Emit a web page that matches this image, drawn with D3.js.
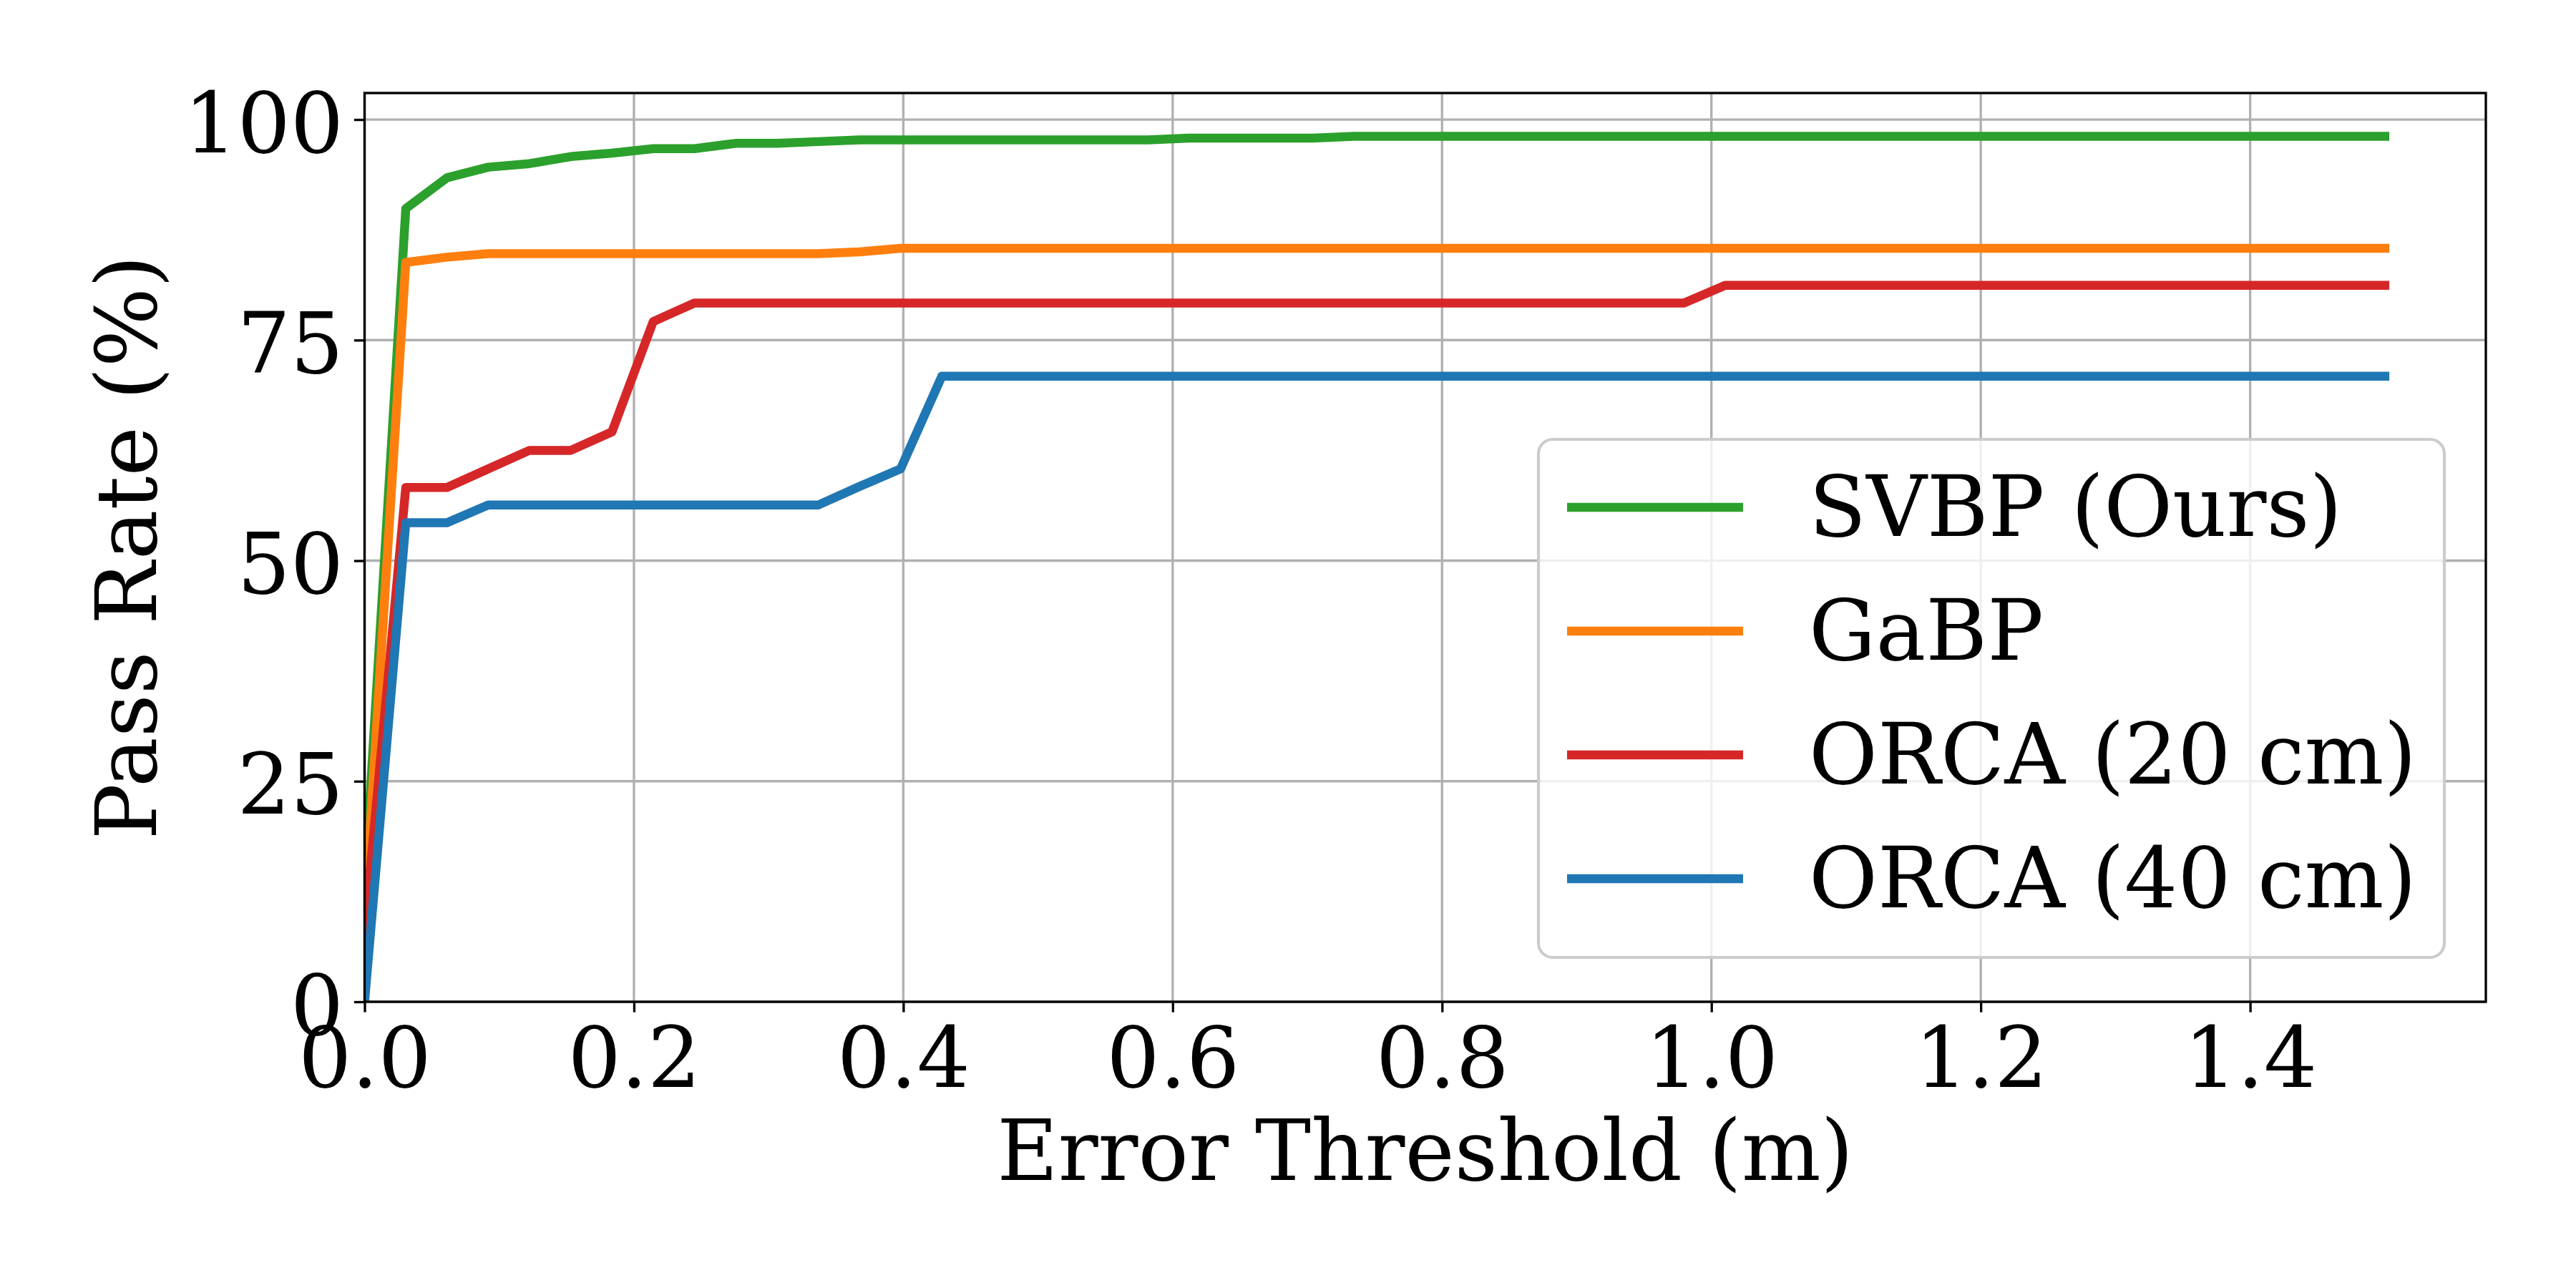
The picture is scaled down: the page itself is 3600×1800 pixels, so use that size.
<!DOCTYPE html>
<html>
<head>
<meta charset="utf-8">
<script src="https://cdn.jsdelivr.net/npm/d3@7"></script>
<style>
  body { margin: 0; background: #fff; }
  text { font-family: "DejaVu Serif", serif; fill: #000; }
</style>
</head>
<body>
<svg id="plot"></svg>
<script>
// error thresholds (m)
let thresholds = [0, 0.0306, 0.0612, 0.0918, 0.1224, 0.1531, 0.1837, 0.2143, 0.2449, 0.2755,
  0.3061, 0.3367, 0.3673, 0.3980, 0.4286, 0.4592, 0.4898, 0.5204, 0.5510, 0.5816,
  0.6122, 0.6429, 0.6735, 0.7041, 0.7347, 0.7653, 0.7959, 0.8265, 0.8571, 0.8878,
  0.9184, 0.9490, 0.9796, 1.0102, 1.0408, 1.0714, 1.1020, 1.1327, 1.1633, 1.1939,
  1.2245, 1.2551, 1.2857, 1.3163, 1.3469, 1.3776, 1.4082, 1.4388, 1.4694, 1.5]

// pass rates (%)
let svbp = [13, 89.9, 93.4, 94.6, 95.0, 95.8, 96.2, 96.7, 96.7, 97.3,
  97.3, 97.5, 97.7, 97.7, 97.7, 97.7, 97.7, 97.7, 97.7, 97.7,
  97.9, 97.9, 97.9, 97.9, 98.1, 98.1, 98.1, 98.1, 98.1, 98.1,
  98.1, 98.1, 98.1, 98.1, 98.1, 98.1, 98.1, 98.1, 98.1, 98.1,
  98.1, 98.1, 98.1, 98.1, 98.1, 98.1, 98.1, 98.1, 98.1, 98.1]
let gabp = [9.5, 83.8, 84.4, 84.8, 84.8, 84.8, 84.8, 84.8, 84.8, 84.8,
  84.8, 84.8, 85.0, 85.4, 85.4, 85.4, 85.4, 85.4, 85.4, 85.4,
  85.4, 85.4, 85.4, 85.4, 85.4, 85.4, 85.4, 85.4, 85.4, 85.4,
  85.4, 85.4, 85.4, 85.4, 85.4, 85.4, 85.4, 85.4, 85.4, 85.4,
  85.4, 85.4, 85.4, 85.4, 85.4, 85.4, 85.4, 85.4, 85.4, 85.4]
let orca20 = [8, 58.3, 58.3, 60.4, 62.5, 62.5, 64.6, 77.1, 79.2, 79.2,
  79.2, 79.2, 79.2, 79.2, 79.2, 79.2, 79.2, 79.2, 79.2, 79.2,
  79.2, 79.2, 79.2, 79.2, 79.2, 79.2, 79.2, 79.2, 79.2, 79.2,
  79.2, 79.2, 79.2, 81.2, 81.2, 81.2, 81.2, 81.2, 81.2, 81.2,
  81.2, 81.2, 81.2, 81.2, 81.2, 81.2, 81.2, 81.2, 81.2, 81.2]
let orca40 = [0, 54.3, 54.3, 56.3, 56.3, 56.3, 56.3, 56.3, 56.3, 56.3,
  56.3, 56.3, 58.4, 60.4, 70.9, 70.9, 70.9, 70.9, 70.9, 70.9,
  70.9, 70.9, 70.9, 70.9, 70.9, 70.9, 70.9, 70.9, 70.9, 70.9,
  70.9, 70.9, 70.9, 70.9, 70.9, 70.9, 70.9, 70.9, 70.9, 70.9,
  70.9, 70.9, 70.9, 70.9, 70.9, 70.9, 70.9, 70.9, 70.9, 70.9]

let names = ["SVBP (Ours)", "GaBP", "ORCA (20 cm)", "ORCA (40 cm)"]
let colors = ["#2ca02c", "#ff7f0e", "#d62728", "#1f77b4"]
let seriesValues = [svbp, gabp, orca20, orca40]

let xTicks = [0, 0.2, 0.4, 0.6, 0.8, 1.0, 1.2, 1.4]
let yTicks = [0, 25, 50, 75, 100]

let svgwidth = 3600, svgheight = 1800;
let margin_left = 509.5, margin_right = 126, margin_top = 130, margin_bottom = 400;
let plot_width = svgwidth - margin_left - margin_right;
let plot_height = svgheight - margin_top - margin_bottom;
let fs = 117;
let lw = 3.33;

let svg = d3.select("#plot").attr("width", svgwidth).attr("height", svgheight)

// matplotlib style 5% margin on the top/right end
let xmax = d3.max(thresholds) * 1.05
let ymax = d3.max(seriesValues, s => d3.max(s)) * 1.05

let x_scale = d3.scaleLinear([0, xmax], [margin_left, margin_left + plot_width])
let y_scale = d3.scaleLinear([0, ymax], [margin_top + plot_height, margin_top])

svg.append("rect").attr("width", svgwidth).attr("height", svgheight).attr("fill", "#fff")

svg.append("defs").append("clipPath")
  .attr("id", "clip")
  .append("rect")
  .attr("x", margin_left)
  .attr("y", margin_top)
  .attr("width", plot_width)
  .attr("height", plot_height)

// grid
let gGrid = svg.append("g")
gGrid.selectAll(".gx").data(xTicks).join("line")
  .attr("x1", d => x_scale(d)).attr("x2", d => x_scale(d))
  .attr("y1", margin_top).attr("y2", margin_top + plot_height)
  .attr("stroke", "#b0b0b0").attr("stroke-width", lw)
gGrid.selectAll(".gy").data(yTicks).join("line")
  .attr("x1", margin_left).attr("x2", margin_left + plot_width)
  .attr("y1", d => y_scale(d)).attr("y2", d => y_scale(d))
  .attr("stroke", "#b0b0b0").attr("stroke-width", lw)

// axes
let xAxis = d3.axisBottom(x_scale).tickValues(xTicks).tickFormat(d3.format(".1f"))
  .tickSizeInner(14.6).tickSizeOuter(0).tickPadding(14.6)
let yAxis = d3.axisLeft(y_scale).tickValues(yTicks).tickFormat(d3.format("d"))
  .tickSizeInner(14.6).tickSizeOuter(0).tickPadding(14.6)

let gx = svg.append("g")
  .attr("transform", `translate(0,${margin_top + plot_height})`)
  .call(xAxis)
gx.select(".domain").remove()
gx.selectAll(".tick line").attr("stroke", "#000").attr("stroke-width", lw)
gx.selectAll(".tick text")
  .attr("font-family", "DejaVu Serif").attr("font-size", fs).attr("fill", "#000")
  .attr("dy", null).attr("y", 119)

let gy = svg.append("g")
  .attr("transform", `translate(${margin_left},0)`)
  .call(yAxis)
gy.select(".domain").remove()
gy.selectAll(".tick line").attr("stroke", "#000").attr("stroke-width", lw)
gy.selectAll(".tick text")
  .attr("font-family", "DejaVu Serif").attr("font-size", fs).attr("fill", "#000")
  .attr("dy", null).attr("y", 45)

// lines
let line = d3.line()
  .x((d, i) => x_scale(thresholds[i]))
  .y(d => y_scale(d))

let gLines = svg.append("g").attr("clip-path", "url(#clip)")
gLines.selectAll("path").data(seriesValues).join("path")
  .attr("d", d => line(d))
  .attr("fill", "none")
  .attr("stroke", (d, i) => colors[i])
  .attr("stroke-width", 12.5)
  .attr("stroke-linejoin", "round")
  .attr("stroke-linecap", "square")

// spines
svg.append("rect")
  .attr("x", margin_left).attr("y", margin_top)
  .attr("width", plot_width).attr("height", plot_height)
  .attr("fill", "none").attr("stroke", "#000").attr("stroke-width", lw)

// axis labels
svg.append("text")
  .attr("text-anchor", "middle")
  .attr("x", margin_left + plot_width / 2)
  .attr("y", 1649)
  .attr("font-size", fs)
  .text("Error Threshold (m)")

svg.append("text")
  .attr("text-anchor", "middle")
  .attr("transform", `translate(218,${margin_top + plot_height / 2}) rotate(-90)`)
  .attr("font-size", fs)
  .text("Pass Rate (%)")

// legend
let legend = svg.append("g")
legend.append("rect")
  .attr("x", 2150).attr("y", 614)
  .attr("width", 1266).attr("height", 724)
  .attr("rx", 20).attr("ry", 20)
  .attr("fill", "#fff").attr("fill-opacity", 0.8)
  .attr("stroke", "#cccccc").attr("stroke-width", 4.17)

let rows = legend.selectAll(".row").data(names).join("g")
  .attr("transform", (d, i) => `translate(0,${709 + i * 173})`)
rows.append("line")
  .attr("x1", 2190).attr("x2", 2436)
  .attr("stroke", (d, i) => colors[i])
  .attr("stroke-width", 12.5)
rows.append("text")
  .attr("x", 2528).attr("y", 40)
  .attr("font-size", fs)
  .text(d => d)
</script>
</body>
</html>
